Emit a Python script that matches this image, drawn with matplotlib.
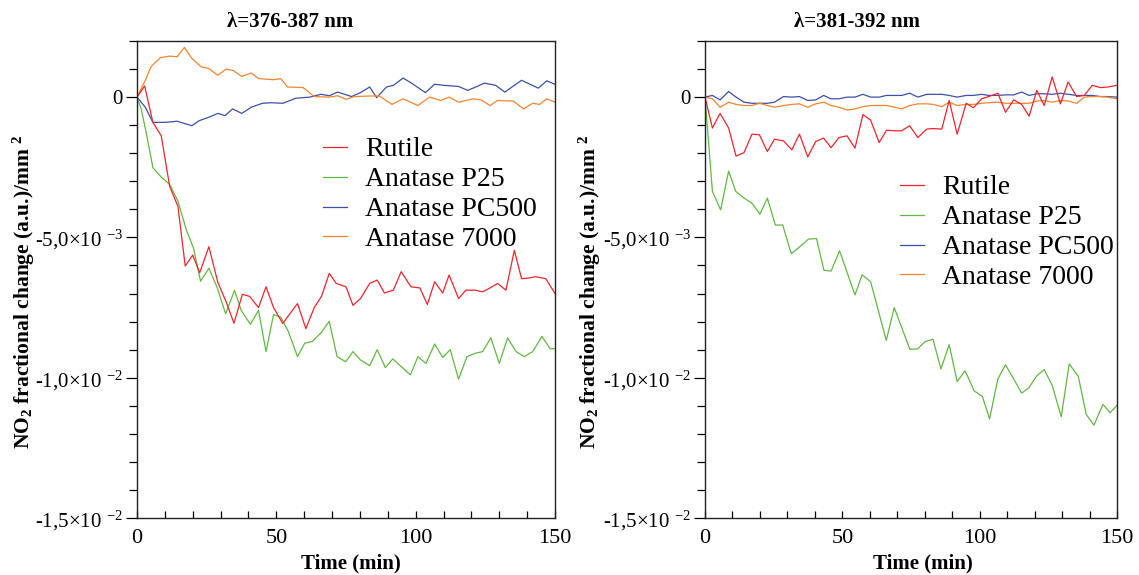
import matplotlib
matplotlib.use("Agg")
import matplotlib.pyplot as plt
from matplotlib.ticker import FixedLocator, FixedFormatter, MultipleLocator

plt.rcParams['font.family'] = ['Liberation Serif', 'DejaVu Serif']
plt.rcParams['mathtext.fontset'] = 'custom'
plt.rcParams['mathtext.rm'] = 'Liberation Serif'
plt.rcParams['mathtext.it'] = 'Liberation Serif:italic'
plt.rcParams['mathtext.bf'] = 'Liberation Serif:bold'

# ---------------- data (values in units of 1e-3) ----------------
series_names = ["Rutile", "Anatase P25", "Anatase PC500", "Anatase 7000"]
colors = ["#f0252d", "#62b844", "#3d50a8", "#f7842e"]

# Left panel: lambda = 376-387 nm
left_rutile_t = [0, 2.75, 5.7, 8.7, 11.7, 14.7, 17.3, 20, 22.5, 25.8, 29, 32, 34.8, 37.8, 40.4,
                 43.6, 46.3, 49, 52.3, 55, 57.6, 60.6, 63.6, 66.2, 69, 71.5, 75, 77.5, 80.2, 83.5,
                 86.2, 88.8, 92, 94.8, 98.3, 101.5, 104.2, 106.8, 109.7, 112, 115.4, 118, 121.4,
                 124, 126.7, 129.4, 132.4, 135.4, 138, 140.5, 143, 146.7, 150]
left_rutile_v = [0, 0.4, -0.9, -1.38, -3.17, -3.9, -6.02, -5.63, -6.26, -5.33, -6.6, -7.3, -8.06, -7.03, -7.1,
                 -7.5, -6.76, -7.5, -8.07, -7.7, -7.36, -8.25, -7.5, -7.1, -6.28, -6.64, -6.76, -7.42, -7.18, -6.64,
                 -6.52, -6.98, -6.88, -6.22, -6.76, -6.8, -7.39, -6.58, -6.98, -6.34, -7.18, -6.88, -6.88,
                 -6.94, -6.8, -6.64, -6.88, -5.46, -6.47, -6.45, -6.4, -6.47, -7.0]

left_p25_t = [0, 1.5, 3.3, 5.7, 8.7, 11.7, 14.7, 17.7, 20.3, 22.8, 25.8, 28.7, 31.8, 35, 37.4, 40.7,
              43.6, 46.3, 49, 51.6, 54.3, 57.6, 60.2, 62.9, 66.2, 69, 71.8, 74.9, 77.5, 80.2, 83.5,
              86.2, 89.1, 91.8, 94.8, 98.1, 100.8, 103.7, 106.8, 109.7, 112.4, 115.4, 118.4, 121.4,
              124, 127, 130, 133, 136, 139, 142, 145.3, 148.3, 150]
left_p25_v = [0, -0.42, -1.26, -2.51, -2.85, -3.11, -3.71, -4.73, -5.39, -6.56, -6.1, -6.77, -7.72, -6.89, -7.6, -8.1,
              -7.6, -9.07, -7.75, -7.84, -8.35, -9.25, -8.77, -8.71, -8.38, -7.99, -9.25, -9.43, -9.07, -9.37, -9.57,
              -9.0, -9.64, -9.33, -9.6, -9.9, -9.25, -9.49, -8.8, -9.28, -9.0, -10.05, -9.25, -9.13,
              -9.07, -8.58, -9.49, -8.58, -9.07, -9.25, -9.07, -8.53, -8.97, -8.97]

left_pc500_t = [0, 3, 5.7, 10, 14.4, 17, 19.7, 22.3, 25.7, 29, 31.6, 34.3, 37.6, 41, 45, 48, 52.3, 57,
                62, 66, 69, 72, 77, 80, 83.5, 86, 89.5, 92, 95.5, 98.8, 103.5, 106.8, 110, 115.4,
                118.7, 122, 124.7, 128.7, 132, 138, 144, 147, 150]
left_pc500_v = [0, -0.36, -0.9, -0.9, -0.86, -0.94, -1.02, -0.84, -0.72, -0.58, -0.66, -0.42, -0.58, -0.36,
                -0.22, -0.2, -0.22, -0.04, 0, 0.1, 0.05, 0.18, 0.02, 0.15, 0.36, -0.02, 0.36, 0.42, 0.68,
                0.48, 0.16, 0.46, 0.42, 0.38, 0.24, 0.38, 0.5, 0.42, 0.18, 0.6, 0.32, 0.58, 0.46]

left_a7000_t = [0, 3, 5, 8.4, 11.7, 14.4, 17, 19.7, 23, 25.7, 29, 32, 34.5, 37.6, 41, 43.6, 49, 51.6,
                54, 59.6, 63.6, 69, 72, 75, 78, 83.5, 87, 91.5, 95.5, 100.8, 105, 109, 112, 115.4,
                120.7, 123.5, 126.7, 129.4, 135, 138.7, 142, 144.5, 147, 150]
left_a7000_v = [0, 0.6, 1.08, 1.41, 1.46, 1.44, 1.77, 1.38, 1.08, 1.02, 0.78, 1.0, 0.95, 0.74, 0.86, 0.66,
                0.62, 0.66, 0.36, 0.34, 0.02, 0, 0.05, -0.08, 0.02, 0.04, 0.04, -0.26, -0.06, -0.3, 0,
                -0.12, 0, -0.18, -0.06, -0.1, -0.3, -0.12, -0.14, -0.42, -0.22, -0.26, -0.06, -0.18]

# Right panel: lambda = 381-392 nm
right_t = [0, 2.7, 5.5, 8.6, 11.3, 14.2, 17.1, 19.8, 22.7, 25.3, 28.6, 31.6, 34.4, 37.4, 40.3, 43.2,
           45.9, 48.8, 51.7, 54.6, 57.5, 60.3, 63.4, 66.1, 69, 71.6, 74.5, 77.5, 80.7, 83.1, 86.2,
           88.9, 91.8, 95.1, 97.7, 100.7, 103.3, 106.6, 109.4, 112.4, 115.3, 118, 120.8, 123.5,
           126.4, 129.4, 132.2, 135.3, 138.1, 141, 144, 146.6, 150]
right_rutile_v = [0, -1.1, -0.58, -1.1, -2.1, -1.98, -1.32, -1.34, -1.94, -1.5, -1.56, -1.88, -1.32, -2.13,
                  -1.58, -1.46, -1.8, -1.44, -1.38, -1.82, -0.62, -0.82, -1.62, -1.18, -1.2, -1.2, -1.02,
                  -1.44, -1.14, -1.12, -1.14, -0.12, -1.32, -0.22, -0.38, -0.06, 0.02, 0.14, -0.54, -0.1,
                  -0.26, -0.68, 0.24, -0.3, 0.72, -0.24, 0.54, 0.02, 0.06, 0.42, 0.34, 0.36, 0.42]
right_pc500_v = [0, 0.06, -0.1, 0.2, 0, -0.18, -0.22, -0.22, -0.22, -0.18, 0.02, 0.0, 0.02, -0.12, -0.1,
                 0.06, -0.06, -0.06, 0.0, 0.0, 0.1, 0.0, 0.0, 0.06, 0.06, 0.06, 0.14, 0.0, 0.1, 0.1, 0.1,
                 0.06, 0.0, 0.06, 0.06, 0.1, 0.06, 0.06, 0.08, 0.08, 0.18, 0.06, 0.12, 0.12, 0.1, 0.14,
                 0.1, 0.06, 0.06, 0.06, 0.02, 0.02, 0.0]
right_a7000_v = [0, -0.06, -0.36, -0.18, -0.26, -0.3, -0.3, -0.22, -0.3, -0.36, -0.3, -0.26, -0.24, -0.36,
                 -0.24, -0.18, -0.3, -0.36, -0.46, -0.42, -0.34, -0.3, -0.3, -0.3, -0.36, -0.42, -0.3,
                 -0.24, -0.24, -0.26, -0.34, -0.18, -0.3, -0.26, -0.26, -0.22, -0.2, -0.18, -0.22, -0.22,
                 -0.22, -0.22, -0.14, -0.12, -0.18, -0.12, -0.14, -0.22, 0.0, 0.02, 0.02, 0.0, -0.06]

right_p25_t = [0, 2.7, 5.7, 8.6, 11.2, 14.2, 17.1, 20, 22.7, 25.6, 28.3, 31.4, 34.4, 37.7, 40.6, 43.3,
               45.9, 49, 51.7, 54.6, 57.2, 60.3, 66, 68.9, 74.6, 77.5, 80, 83, 85.9, 88.9, 91.8, 94.7,
               98, 101, 103.6, 106.6, 109.4, 112.4, 115.3, 118, 120.8, 123.5, 126.4, 129.7, 132.6,
               135.9, 138.8, 141.6, 144.9, 147.5, 150]
right_p25_v = [0, -3.36, -4.02, -2.64, -3.36, -3.6, -3.78, -4.17, -3.6, -4.56, -4.56, -5.58, -5.34, -5.06,
               -5.04, -6.17, -6.2, -5.48, -6.24, -7.05, -6.33, -6.58, -8.67, -7.5, -8.99, -8.97, -8.72,
               -8.63, -9.69, -8.82, -10.14, -9.75, -10.47, -10.67, -11.47, -10.05, -9.54, -10.05, -10.55,
               -10.35, -9.93, -9.71, -10.27, -11.39, -9.51, -9.95, -11.31, -11.69, -10.95, -11.25, -10.99]

titles = ["λ=376-387 nm", "λ=381-392 nm"]
x_label = "Time (min)"
y_label = r"NO$_{\mathbf{2}}$ fractional change (a.u.)/mm $^{\mathbf{2}}$"
y_major = [0, -5, -10, -15]
y_major_labels = ["0", r"-5,0×10 $^{\mathrm{-3}}$", r"-1,0×10 $^{\mathrm{-2}}$", r"-1,5×10 $^{\mathrm{-2}}$"]
x_major = [0, 50, 100, 150]

W, H = 1139, 575
fig = plt.figure(figsize=(W / 100, H / 100), dpi=100)

def fx(px):
    return px / W

def fy(py):
    return 1 - py / H

ax_l = fig.add_axes([fx(137), fy(518), fx(555 - 137), (518 - 41) / H])
ax_r = fig.add_axes([fx(705), fy(518), fx(1117 - 705), (518 - 41) / H])

left_data = [(left_rutile_t, left_rutile_v), (left_p25_t, left_p25_v),
             (left_pc500_t, left_pc500_v), (left_a7000_t, left_a7000_v)]
right_data = [(right_t, right_rutile_v), (right_p25_t, right_p25_v),
              (right_t, right_pc500_v), (right_t, right_a7000_v)]

ordered = {}
for ax, data in ((ax_l, left_data), (ax_r, right_data)):
    lines = {}
    for idx in [2, 3, 1, 0]:
        t, v = data[idx]
        lines[idx], = ax.plot(t, v, color=colors[idx], lw=0.9, label=series_names[idx])
    ordered[ax] = [lines[i] for i in range(4)]
    ax.set_xlim(0, 150)
    ax.set_ylim(-15, 2)
    ax.yaxis.set_major_locator(FixedLocator(y_major))
    ax.yaxis.set_major_formatter(FixedFormatter(y_major_labels))
    ax.yaxis.set_minor_locator(MultipleLocator(1))
    ax.xaxis.set_major_locator(FixedLocator(x_major))
    ax.xaxis.set_minor_locator(MultipleLocator(10))
    ax.tick_params(axis='y', which='major', direction='out', length=8, width=0.9, pad=2, labelsize=15)
    ax.tick_params(axis='y', which='minor', direction='out', length=6, width=0.9)
    ax.tick_params(axis='x', which='both', direction='in', length=5, width=0.9, pad=8, labelsize=16)
    for s in ax.spines.values():
        s.set_linewidth(1.0)
        s.set_color('#222222')

leg_kw = dict(loc='upper left', bbox_transform=fig.transFigure, frameon=False, fontsize=20,
              handlelength=0.86, handletextpad=0.65, labelspacing=0.16, borderpad=0, borderaxespad=0)
ax_l.legend(ordered[ax_l], series_names, bbox_to_anchor=(fx(323), fy(137)), **leg_kw)
ax_r.legend(ordered[ax_r], series_names, bbox_to_anchor=(fx(900), fy(175)), **leg_kw)

# titles
fig.text(fx(290), fy(22), titles[0], ha='center', va='center', fontsize=15, fontweight='bold')
fig.text(fx(857), fy(22), titles[1], ha='center', va='center', fontsize=15, fontweight='bold')
# x labels
fig.text(fx(351), fy(563), x_label, ha='center', va='center', fontsize=15, fontweight='bold')
fig.text(fx(923), fy(563), x_label, ha='center', va='center', fontsize=15, fontweight='bold')
# y labels
fig.text(fx(24), fy(292), y_label, ha='center', va='center', rotation=90, fontsize=15.5, fontweight='bold')
fig.text(fx(590), fy(292), y_label, ha='center', va='center', rotation=90, fontsize=15.5, fontweight='bold')

fig.savefig("out.png", dpi=100)
